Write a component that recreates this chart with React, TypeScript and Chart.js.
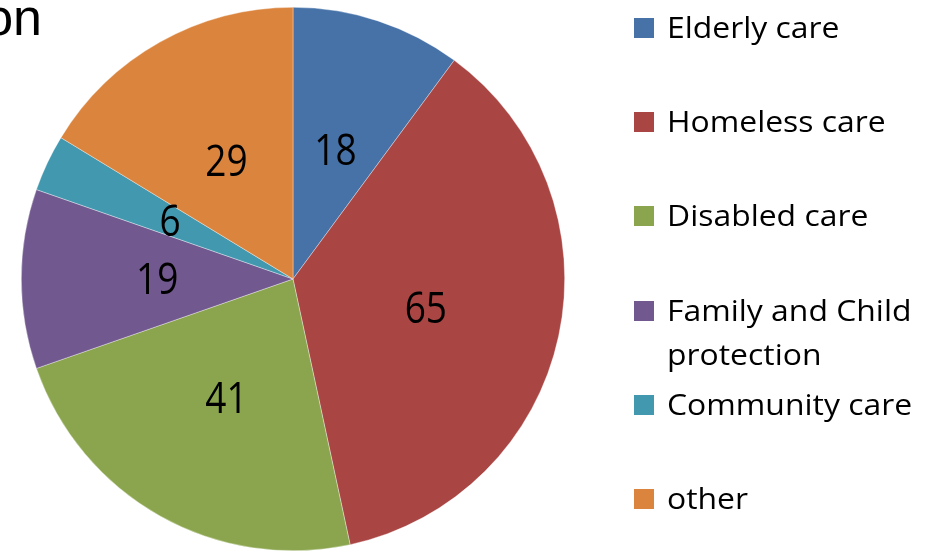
import React, { useEffect, useRef } from "react";
import { Chart, registerables } from "chart.js";

Chart.register(...registerables);

const categories = [
  "Elderly care",
  "Homeless care",
  "Disabled care",
  "Family and Child protection",
  "Community care",
  "other",
];
const legendLines = [
  ["Elderly care"],
  ["Homeless care"],
  ["Disabled care"],
  ["Family and Child", "protection"],
  ["Community care"],
  ["other"],
];
const values = [18, 65, 41, 19, 6, 29];
const colors = ["#4672A8", "#A94543", "#8AA54D", "#71588F", "#4198AF", "#DB843D"];
const legendBaselines = [38, 132, 226, 321, 415, 509];

const FONT = "'Open Sans', sans-serif";

const labelPlugin = {
  id: "sliceLabels",
  afterDatasetsDraw(chart: any) {
    const ctx = chart.ctx;
    const meta = chart.getDatasetMeta(0);
    const ds = chart.data.datasets[0];
    const F = 43;
    const sx = 0.86;
    meta.data.forEach((arc: any, i: number) => {
      const p = arc.tooltipPosition();
      ctx.save();
      ctx.translate(p.x, p.y + 0.357 * F);
      ctx.scale(sx, 1);
      ctx.font = `${F}px ${FONT}`;
      ctx.fillStyle = "#000";
      ctx.textAlign = "center";
      ctx.textBaseline = "alphabetic";
      ctx.fillText(String(ds.data[i]), 0, 0);
      ctx.restore();
    });
  },
};

export default function App() {
  const ref = useRef<HTMLCanvasElement | null>(null);
  useEffect(() => {
    document.body.style.margin = "0";
    const chart = new Chart(ref.current!, {
      type: "pie",
      data: {
        labels: categories,
        datasets: [
          {
            data: values,
            backgroundColor: colors,
            borderColor: "rgba(255,255,255,0.6)",
            borderWidth: 0.6,
          },
        ],
      },
      options: {
        animation: false,
        responsive: false,
        maintainAspectRatio: false,
        layout: { padding: { left: 21, right: 361, top: 7, bottom: 0 } },
        plugins: {
          legend: { display: false },
          tooltip: { enabled: false },
          title: { display: false },
        },
      },
      plugins: [labelPlugin],
    });
    return () => chart.destroy();
  }, []);

  const F = 29;
  return (
    <div style={{ position: "absolute", left: 0, top: 0, width: 926, height: 551, overflow: "hidden", background: "#fff" }}>
      <canvas ref={ref} width={926} height={551} style={{ position: "absolute", left: 0, top: 0 }} />
      <div
        style={{
          position: "absolute",
          right: 926 - 42,
          top: 35 - 0.8465 * 52,
          fontFamily: "'Liberation Sans', Arial, sans-serif",
          fontSize: 52,
          lineHeight: "52px",
          whiteSpace: "nowrap",
          color: "#000",
        }}
      >
        on
      </div>
      {legendLines.map((lines, i) => (
        <React.Fragment key={i}>
          <div
            style={{
              position: "absolute",
              left: 634,
              top: legendBaselines[i] - 20,
              width: 20,
              height: 20,
              background: colors[i],
            }}
          />
          {lines.map((t, j) => (
            <div
              key={j}
              style={{
                position: "absolute",
                left: 667,
                top: legendBaselines[i] + j * 44 - 0.888 * F,
                fontFamily: FONT,
                fontSize: F,
                lineHeight: `${F}px`,
                whiteSpace: "nowrap",
                color: "#000",
                transform: "scaleX(1.1)",
                transformOrigin: "0 0",
              }}
            >
              {t}
            </div>
          ))}
        </React.Fragment>
      ))}
    </div>
  );
}
